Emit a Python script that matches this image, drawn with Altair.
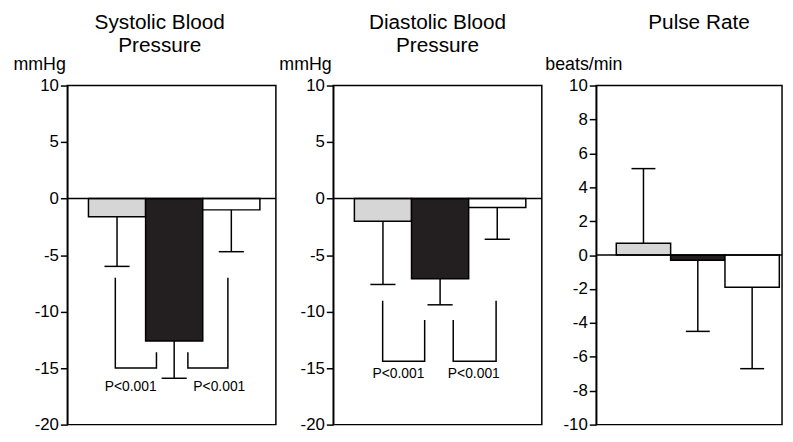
import altair as alt
import pandas as pd

FONT = "Liberation Sans"
TICK_FONT = "Liberation Sans Narrow, Arial Narrow, Liberation Sans"

groups = ["Group 1", "Group 2", "Group 3"]
bar_fills = ["#d6d6d6", "#231f20", "#ffffff"]
bar_starts = [0.37, 1.37, 2.37]
bar_width = 1.0
cap_half = 0.22

# Systolic blood pressure change (mmHg)
sbp_mean = [-1.6, -12.6, -1.0]
sbp_err = [-6.0, -15.9, -4.7]
# Diastolic blood pressure change (mmHg)
dbp_mean = [-2.0, -7.1, -0.8]
dbp_err = [-7.6, -9.4, -3.6]
# Pulse rate change (beats/min)
pr_mean = [0.7, -0.3, -1.9]
pr_err = [5.1, -4.5, -6.7]

# significance brackets
sbp_bracket_x = [[0.84, 0.84, 1.56, 1.56], [2.11, 2.11, 2.81, 2.81]]
sbp_bracket_y = [[-7.0, -15.0, -15.0, -13.6], [-13.6, -15.0, -15.0, -7.0]]
sbp_p_x = [1.11, 2.66]
sbp_p_y = [-16.7, -16.7]

dbp_bracket_x = [[0.865, 0.865, 1.60, 1.60], [2.10, 2.10, 2.85, 2.85]]
dbp_bracket_y = [[-9.05, -14.4, -14.4, -10.75], [-10.75, -14.4, -14.4, -9.05]]
dbp_p_x = [1.14, 2.46]
dbp_p_y = [-15.5, -15.5]

p_labels = ["P<0.001", "P<0.001"]

PLOT_H = 343


def panel(title, means, errs, ydom, yvals, ytitle, title_x, xdom, width,
          bx=None, by=None, px=None, py=None, title_dx=0):
    df = pd.DataFrame({
        "group": groups,
        "x0": bar_starts,
        "x1": [s + bar_width for s in bar_starts],
        "xc": [s + bar_width / 2 for s in bar_starts],
        "cl": [s + bar_width / 2 - cap_half for s in bar_starts],
        "cr": [s + bar_width / 2 + cap_half for s in bar_starts],
        "mean": means,
        "err": errs,
        "zero": [0, 0, 0],
    })
    xs = alt.Scale(domain=xdom, nice=False, zero=False)
    ys = alt.Scale(domain=ydom, nice=False, zero=False)
    yaxis = alt.Axis(values=yvals, labelExpr="datum.value + ''", title=ytitle,
                     titleAngle=0, titleAlign="left", titleBaseline="alphabetic",
                     titleX=title_x, titleY=-16, titleFontSize=18,
                     titleFontWeight="normal", titleFont=FONT, titleColor="black",
                     tickSize=7, labelPadding=2, labelOverlap=False,
                     labelFont=TICK_FONT, labelFontSize=17)
    bars = alt.Chart(df).mark_bar(stroke="black", strokeWidth=1.5).encode(
        x=alt.X("x0:Q", scale=xs, axis=None),
        x2="x1",
        y=alt.Y("mean:Q", scale=ys, axis=yaxis),
        y2="zero",
        fill=alt.Fill("group:N", scale=alt.Scale(domain=groups, range=bar_fills), legend=None),
    )
    err = alt.Chart(df).mark_rule(color="black", strokeWidth=1.5).encode(
        x=alt.X("xc:Q", scale=xs, axis=None),
        y=alt.Y("mean:Q", scale=ys, axis=yaxis),
        y2="err",
    )
    caps = alt.Chart(df).mark_rule(color="black", strokeWidth=1.5).encode(
        x=alt.X("cl:Q", scale=xs, axis=None),
        x2="cr",
        y=alt.Y("err:Q", scale=ys, axis=yaxis),
    )
    zero = alt.Chart(pd.DataFrame({"z": [0]})).mark_rule(color="black", strokeWidth=1.5).encode(
        y=alt.Y("z:Q", scale=ys, axis=yaxis),
    )
    layers = [bars, err, caps, zero]
    if bx is not None:
        rows = []
        for b, (xx, yy) in enumerate(zip(bx, by)):
            for i, (a, c) in enumerate(zip(xx, yy)):
                rows.append({"b": b, "i": i, "x": a, "y": c})
        br = alt.Chart(pd.DataFrame(rows)).mark_line(color="black", strokeWidth=1.5).encode(
            x=alt.X("x:Q", scale=xs, axis=None),
            y=alt.Y("y:Q", scale=ys, axis=yaxis),
            detail="b:N",
            order="i:Q",
        )
        txt = alt.Chart(pd.DataFrame({"x": px, "y": py, "t": p_labels})).mark_text(
            fontSize=14, font=FONT, color="black", baseline="middle", align="center"
        ).encode(
            x=alt.X("x:Q", scale=xs, axis=None),
            y=alt.Y("y:Q", scale=ys, axis=yaxis),
            text="t:N",
        )
        layers += [br, txt]
    return alt.layer(*layers).properties(
        width=width, height=PLOT_H,
        title=alt.TitleParams(text=title, fontSize=21, font=FONT, fontWeight="normal",
                              lineHeight=23, anchor="middle", dx=title_dx, offset=0,
                              color="black"),
    )


p1 = panel(["Systolic Blood", "Pressure"], sbp_mean, sbp_err, [-20, 10],
           [-20, -15, -10, -5, 0, 5, 10], "mmHg", -55, [0, 3.65], 211,
           sbp_bracket_x, sbp_bracket_y, sbp_p_x, sbp_p_y, title_dx=-12)
p2 = panel(["Diastolic Blood", "Pressure"], dbp_mean, dbp_err, [-20, 10],
           [-20, -15, -10, -5, 0, 5, 10], "mmHg", -55, [0, 3.65], 211,
           dbp_bracket_x, dbp_bracket_y, dbp_p_x, dbp_p_y)
p3 = panel(["Pulse Rate", " "], pr_mean, pr_err, [-10, 10],
           [-10, -8, -6, -4, -2, 0, 2, 4, 6, 8, 10], "beats/min", -52, [0, 3.42], 188,
           title_dx=10)

chart = alt.hconcat(p1, p2, p3, spacing=0).properties(
    padding={"left": 4, "top": 1, "right": 1, "bottom": -6}
).configure_view(stroke="black", strokeWidth=1.5).configure_axis(
    domainColor="black", domainWidth=1.5, tickColor="black", tickWidth=1.5,
    labelColor="black", grid=False, labelOverlap=False,
)

chart.save("out.html", embed_options={"renderer": "svg", "actions": False})
